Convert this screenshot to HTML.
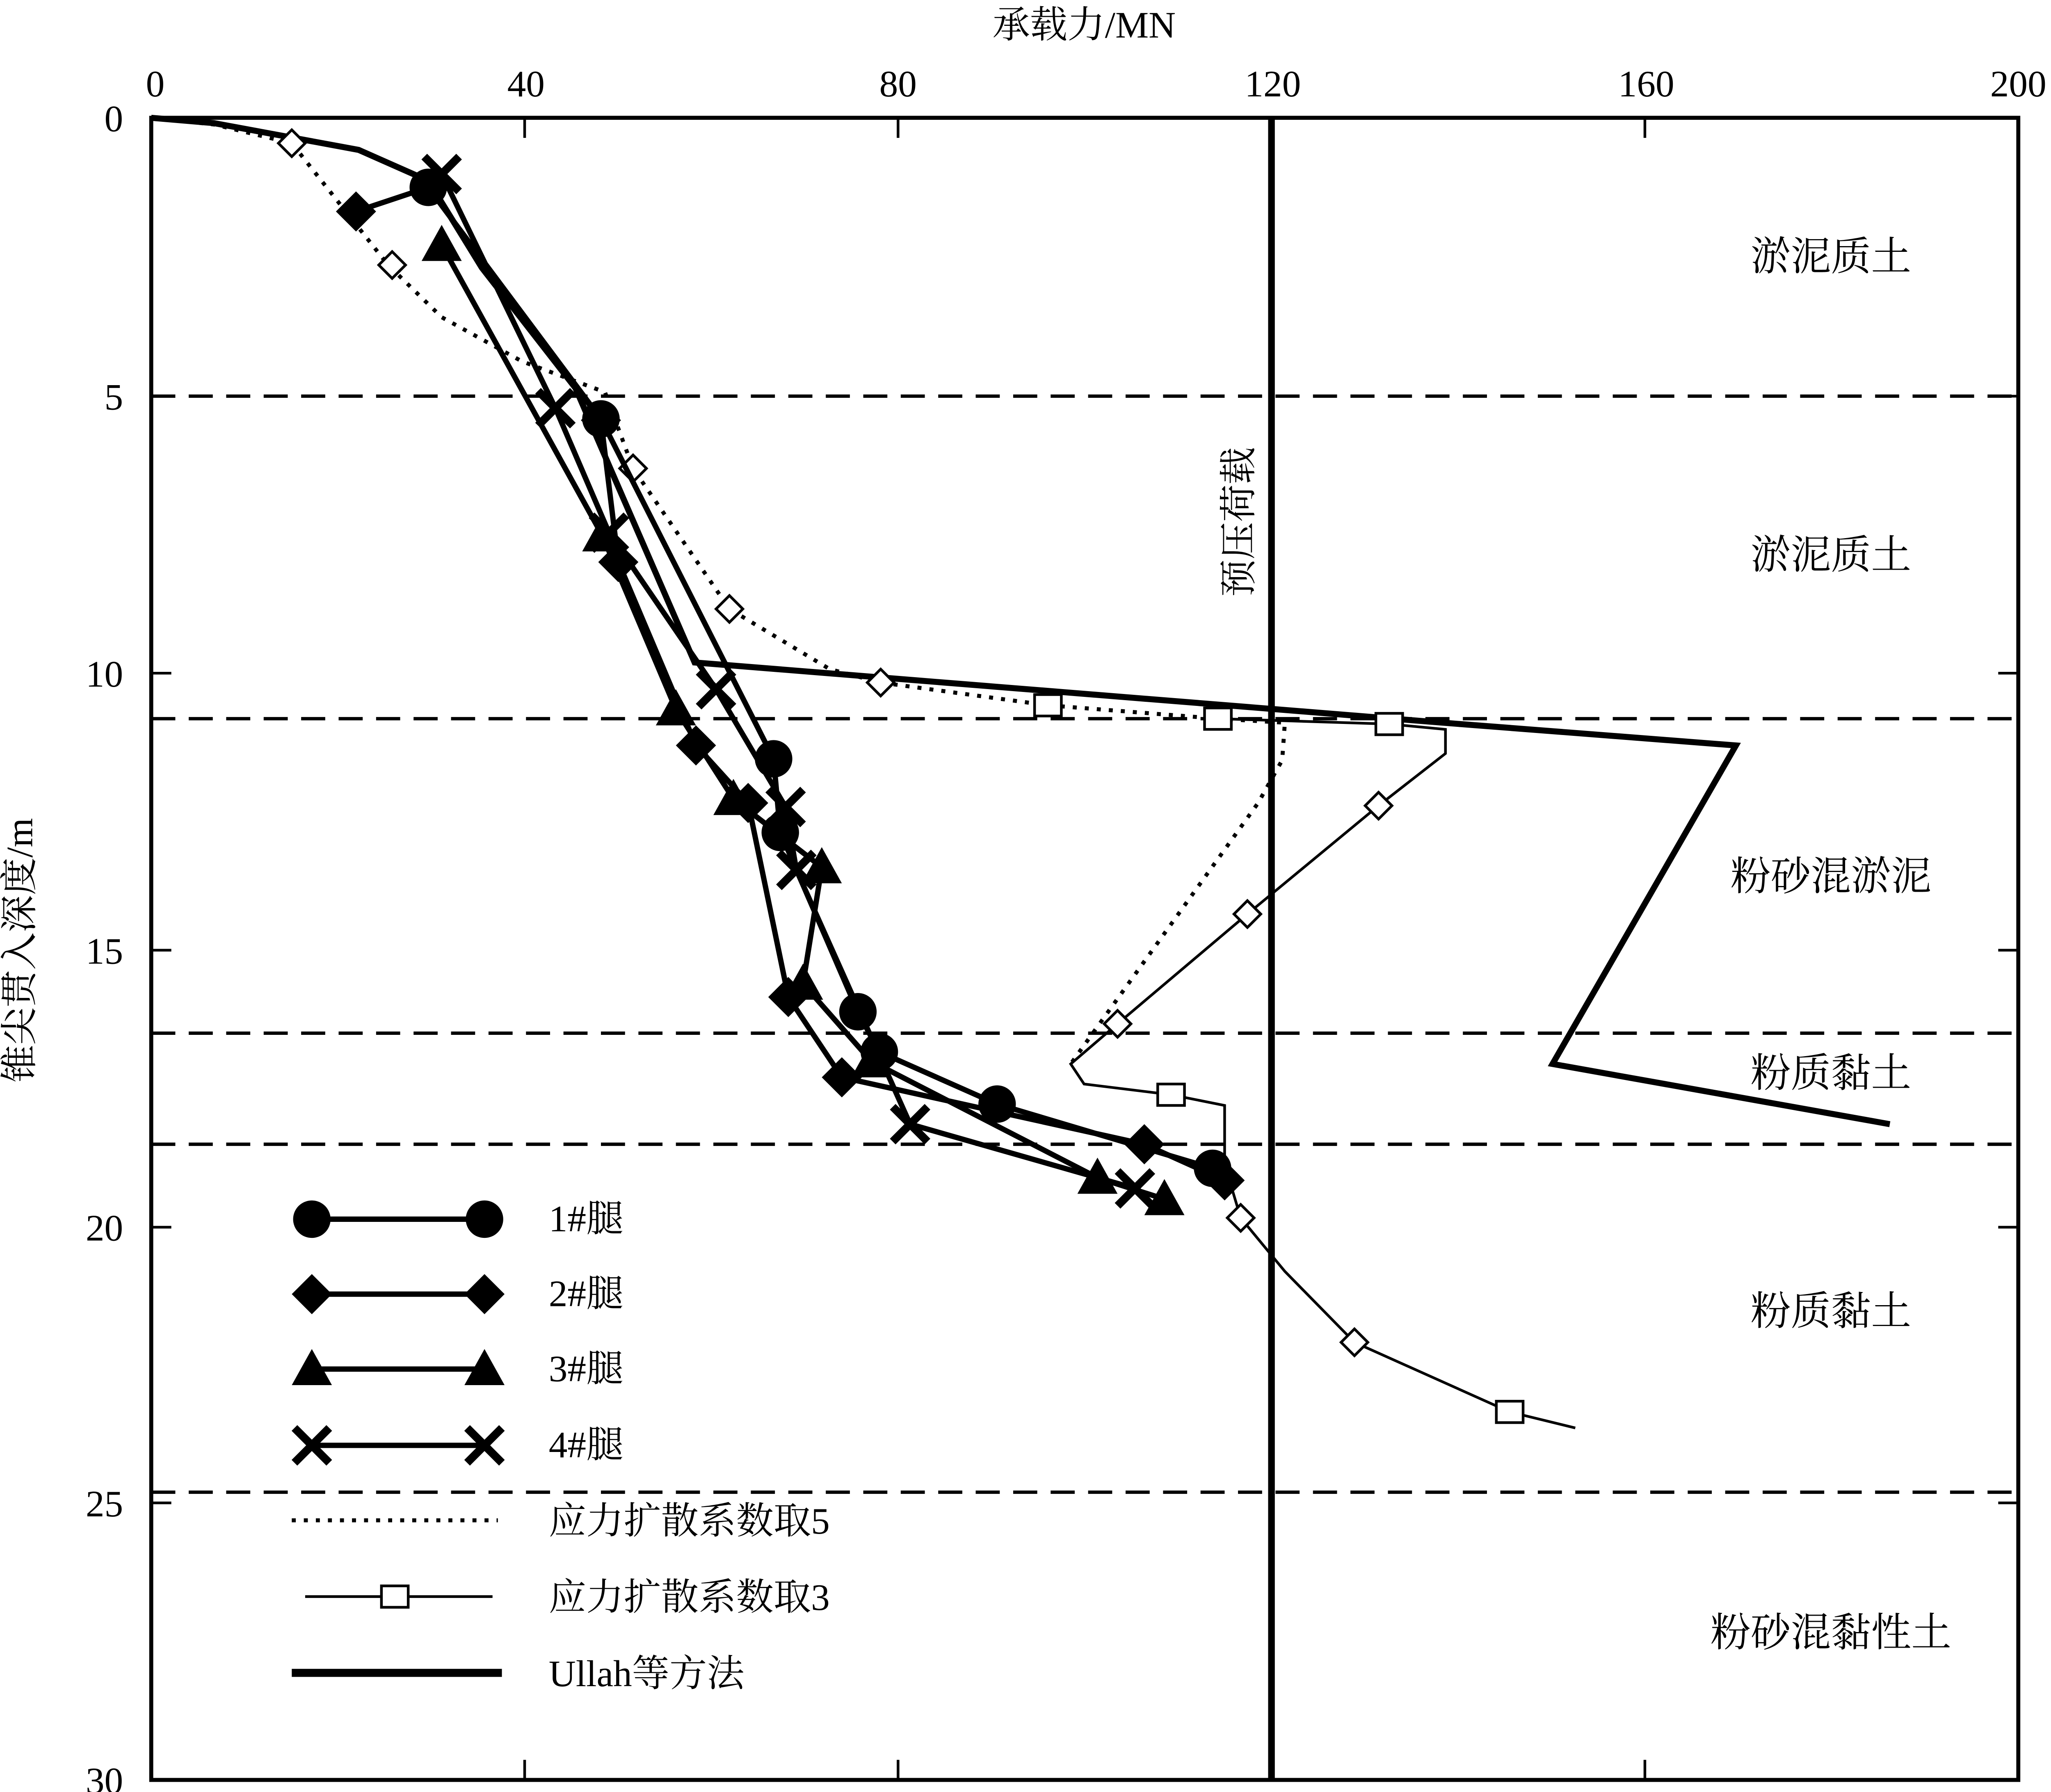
<!DOCTYPE html>
<html><head><meta charset="utf-8"><style>html,body{margin:0;padding:0;background:#fff}svg{display:block}</style></head>
<body>
<svg width="5041" height="4369" viewBox="0 0 1545 1339" xmlns="http://www.w3.org/2000/svg" font-family="Liberation Serif, Noto Serif CJK SC, serif">
<defs>
<circle id="c" r="14" fill="#000"/>
<path id="d" d="M-15 0L0-15L15 0L0 15Z" fill="#000"/>
<path id="t" d="M0-15L15 12L-15 12Z" fill="#000"/>
<path id="x" d="M-13-13L13 13M13-13L-13 13" stroke="#000" stroke-width="6" fill="none"/>
<rect id="s" x="-10" y="-8" width="20" height="16" fill="#fff" stroke="#000" stroke-width="2"/>
<path id="sd" d="M-10 0L0-10L10 0L0 10Z" fill="#fff" stroke="#000" stroke-width="2"/>
</defs>
<rect x="113" y="88" width="1395" height="1242" fill="none" stroke="#000" stroke-width="3"/>
<g stroke="#000" stroke-width="2">
<path d="M113 88v15M392 88v15M671 88v15M950 88v15M1229 88v15M1508 88v15M113 1330v-15M392 1330v-15M671 1330v-15M950 1330v-15M1229 1330v-15M1508 1330v-15"/>
<path d="M113 296h15M113 503h15M113 710h15M113 917h15M113 1123h15M1508 296h-15M1508 503h-15M1508 710h-15M1508 917h-15M1508 1123h-15"/>
</g>
<g font-size="28" text-anchor="middle">
<text x="116" y="72">0</text><text x="393" y="72">40</text><text x="671" y="72">80</text><text x="951" y="72">120</text><text x="1230" y="72">160</text><text x="1508" y="72">200</text>
<text x="810" y="28">承载力/MN</text>
</g>
<g font-size="28" text-anchor="end">
<text x="92" y="98">0</text><text x="92" y="306">5</text><text x="92" y="513">10</text><text x="92" y="720">15</text><text x="92" y="927">20</text><text x="92" y="1133">25</text><text x="92" y="1340">30</text>
</g>
<text font-size="28" text-anchor="middle" transform="translate(24 710) rotate(-90)">锥尖贯入深度/m</text>
<g stroke="#000" stroke-width="2.5" stroke-dasharray="18 10">
<path d="M113 296H1508M113 537H1508M113 772H1508M113 855H1508M113 1115H1508"/>
</g>
<path d="M950 88V1330" stroke="#000" stroke-width="5"/>
<text font-size="28" text-anchor="middle" transform="translate(935 390) rotate(-90)">预压荷载</text>
<g font-size="30" text-anchor="middle">
<text x="1368" y="202">淤泥质土</text><text x="1368" y="425">淤泥质土</text><text x="1368" y="665">粉砂混淤泥</text><text x="1368" y="812">粉质黏土</text><text x="1368" y="990">粉质黏土</text><text x="1368" y="1230">粉砂混黏性土</text>
</g>
<!-- Ullah -->
<polyline fill="none" stroke="#000" stroke-width="4.5" points="113,88 160,92 268,112 320,135 360,200 430,290 456,350 519,495 1078,540 1297,557 1160,795 1412,840"/>
<!-- coefficient 5 dotted -->
<polyline fill="none" stroke="#000" stroke-width="3" stroke-dasharray="3 6" points="113,88 160,93 218,107 290,198 330,237 390,270 452,293 473,350 545,455 620,500 658,510 783,527 910,537 960,540 958,568 940,600 800,795"/>
<!-- coefficient 3 -->
<polyline fill="none" stroke="#000" stroke-width="2" points="910,537 1038,541 1080,545 1080,563 1030,602 932,683 835,765 800,795 810,810 875,818 915,826 915,870 927,910 960,950 1012,1003 1128,1055 1177,1067"/>
<g><use href="#sd" x="218" y="107"/><use href="#sd" x="293" y="198"/><use href="#sd" x="473" y="350"/><use href="#sd" x="545" y="455"/><use href="#sd" x="658" y="510"/><use href="#s" x="783" y="527"/><use href="#s" x="910" y="537"/><use href="#s" x="1038" y="541"/><use href="#sd" x="1030" y="602"/><use href="#sd" x="932" y="683"/><use href="#sd" x="835" y="765"/><use href="#s" x="875" y="818"/><use href="#sd" x="927" y="910"/><use href="#sd" x="1012" y="1003"/><use href="#s" x="1128" y="1055"/></g>
<!-- series 1 -->
<polyline fill="none" stroke="#000" stroke-width="4" points="320,140 449,313 578,567 583,622 641,756 657,786 745,825 906,873"/>
<g><use href="#c" x="320" y="140"/><use href="#c" x="449" y="313"/><use href="#c" x="578" y="567"/><use href="#c" x="583" y="622"/><use href="#c" x="641" y="756"/><use href="#c" x="657" y="786"/><use href="#c" x="745" y="825"/><use href="#c" x="906" y="873"/></g>
<!-- series 2 -->
<polyline fill="none" stroke="#000" stroke-width="4" points="266,158 320,140 449,314 462,420 520,557 559,600 589,745 629,805 855,855 915,882"/>
<g><use href="#d" x="266" y="158"/><use href="#d" x="449" y="314"/><use href="#d" x="462" y="420"/><use href="#d" x="520" y="557"/><use href="#d" x="559" y="600"/><use href="#d" x="589" y="745"/><use href="#d" x="629" y="805"/><use href="#d" x="855" y="855"/><use href="#d" x="915" y="882"/></g>
<!-- series 3 -->
<polyline fill="none" stroke="#000" stroke-width="4" points="330,183 450,400 505,530 548,597 614,648 600,735 651,793 820,880 870,896"/>
<g><use href="#t" x="330" y="183"/><use href="#t" x="450" y="400"/><use href="#t" x="505" y="530"/><use href="#t" x="548" y="597"/><use href="#t" x="614" y="648"/><use href="#t" x="600" y="735"/><use href="#t" x="651" y="793"/><use href="#t" x="820" y="880"/><use href="#t" x="870" y="896"/></g>
<!-- series 4 -->
<polyline fill="none" stroke="#000" stroke-width="4" points="330,130 415,305 455,398 535,515 587,603 595,650 680,840 848,888"/>
<g><use href="#x" x="330" y="130"/><use href="#x" x="415" y="305"/><use href="#x" x="455" y="398"/><use href="#x" x="535" y="515"/><use href="#x" x="587" y="603"/><use href="#x" x="595" y="650"/><use href="#x" x="680" y="840"/><use href="#x" x="848" y="888"/></g>
<!-- legend -->
<g stroke="#000" fill="none">
<path d="M233 911H362M233 967H362M233 1023H362M233 1080H362" stroke-width="4"/>
<path d="M218 1136H372" stroke-width="3" stroke-dasharray="3 6"/>
<path d="M228 1193H368" stroke-width="2"/>
<path d="M218 1250H375" stroke-width="6"/>
</g>
<use href="#c" x="233" y="911"/><use href="#c" x="362" y="911"/>
<use href="#d" x="233" y="967"/><use href="#d" x="362" y="967"/>
<use href="#t" x="233" y="1023"/><use href="#t" x="362" y="1023"/>
<use href="#x" x="233" y="1080"/><use href="#x" x="362" y="1080"/>
<use href="#s" x="295" y="1193"/>
<g font-size="28">
<text x="410" y="920">1#腿</text><text x="410" y="976">2#腿</text><text x="410" y="1032">3#腿</text><text x="410" y="1089">4#腿</text>
<text x="410" y="1146">应力扩散系数取5</text><text x="410" y="1203">应力扩散系数取3</text><text x="410" y="1260">Ullah等方法</text>
</g>
</svg>
</body></html>
